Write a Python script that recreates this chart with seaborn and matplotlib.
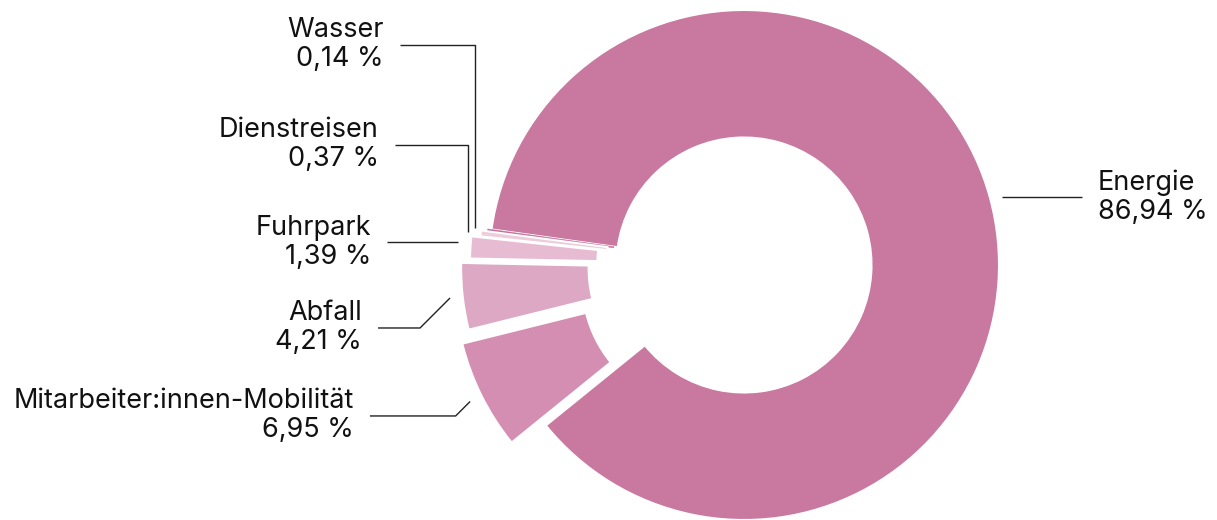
import numpy as np
import matplotlib
matplotlib.use("Agg")
import matplotlib.pyplot as plt
import seaborn as sns

# ---- data ----
categories = ["Energie", "Wasser", "Dienstreisen", "Fuhrpark", "Abfall",
              "Mitarbeiter:innen-Mobilität"]
shares = [86.94, 0.14, 0.37, 1.39, 4.21, 6.95]

# ---- style / layout ----
colors = ["#C9789F", "#C56A98", "#EDCCDC", "#E7BCD2", "#DDA8C4", "#D48EB2"]
explode = [0.0, 0.015, 0.04, 0.075, 0.11, 0.15]
# label layout: (label y, end of horizontal leader, elbow kind)
label_y = [0.267, 0.863, 0.471, 0.090, -0.247, -0.592]
line_end_x = [1.325, -1.349, -1.369, -1.400, -1.435, -1.467]
elbow = ["h", "v", "v", "h", "d", "d"]

sns.set_theme(style="white")
plt.rcParams["font.family"] = ["Inter", "DejaVu Sans"]

W, H = 1217, 520
fig = plt.figure(figsize=(W / 100, H / 100), dpi=100)
ax = fig.add_axes([0, 0, 1, 1])

cx_px, cy_px, R_px = 744, 265, 255

wedges, _ = ax.pie(shares, colors=colors, explode=explode, startangle=219,
                   counterclock=True, radius=1.0,
                   wedgeprops=dict(width=0.5, edgecolor="white", linewidth=1.5))
# the very thin slice keeps its own colour as edge so it stays visible
wedges[1].set_edgecolor(colors[1])
wedges[1].set_linewidth(0.3)
ax.set_xlim((0 - cx_px) / R_px, (W - cx_px) / R_px)
ax.set_ylim((cy_px - H) / R_px, (cy_px - 0) / R_px)
ax.set_aspect("equal")
ax.axis("off")

for i, w in enumerate(wedges):
    mid = np.deg2rad((w.theta1 + w.theta2) / 2)
    r = 1.0 + explode[i] + 0.05
    px, py = r * np.cos(mid), r * np.sin(mid)
    ly = label_y[i]
    lx = line_end_x[i]
    if elbow[i] == "h":
        xs, ys = [px, lx], [ly, ly]
    elif elbow[i] == "v":
        xs, ys = [px, px, lx], [py, ly, ly]
    else:
        ex = px - abs(ly - py)
        xs, ys = [px, ex, lx], [py, ly, ly]
    ax.plot(xs, ys, color="#222222", lw=1.0, solid_capstyle="butt")
    pct = f"{shares[i]:.2f}".replace(".", ",") + " %"
    if lx > 0:
        ax.text(lx + 0.063, ly, f"{categories[i]}\n{pct}", ha="left", va="center",
                fontsize=19.5, color="#111111", linespacing=1.15)
    else:
        ax.text(lx - 0.063, ly, f"{categories[i]}\n{pct}", ha="right", va="center",
                fontsize=19.5, color="#111111", linespacing=1.15, multialignment="right")

fig.savefig("out.png", dpi=100, facecolor="white")
